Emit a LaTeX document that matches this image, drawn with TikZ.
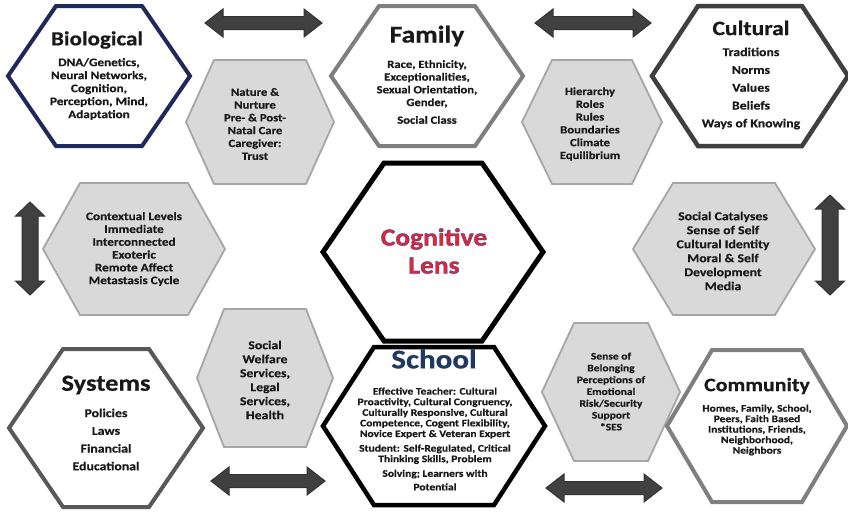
\documentclass[tikz,border=0pt]{standalone}
\usepackage{fontspec}
\setmainfont{Carlito}[FakeStretch=1.15,BoldFeatures={FakeBold=0.5}]
\newfontfamily\cogfont{Carlito}[FakeStretch=1.12,BoldFeatures={FakeBold=1.4}]
\usetikzlibrary{calc}
\pgfdeclarelayer{bg}
\pgfsetlayers{bg,main}
\definecolor{navy}{HTML}{1F2A5C}
\definecolor{hexgray}{HTML}{D9D9D9}
\definecolor{hexedge}{HTML}{A6A6A6}
\definecolor{famedge}{HTML}{7F7F7F}
\definecolor{culedge}{HTML}{3F3F3F}
\definecolor{sysedge}{HTML}{595959}
\definecolor{arrowfill}{HTML}{404040}
\definecolor{cogred}{HTML}{E5262E}
\definecolor{schoolblue}{HTML}{1F3864}
\newcommand\fsz[2]{\bfseries\fontsize{#1}{#2}\selectfont}
% name, cx, cy, half width, half height, half top edge, style
\newcommand\hexshape[7]{%
  \draw[#7] (#2-#4,#3) coordinate (#1-l)
    -- (#2-#6,#3-#5) coordinate (#1-tl)
    -- (#2+#6,#3-#5) coordinate (#1-tr)
    -- (#2+#4,#3) coordinate (#1-r)
    -- (#2+#6,#3+#5) coordinate (#1-br)
    -- (#2-#6,#3+#5) coordinate (#1-bl)
    -- cycle;
  \coordinate (#1) at (#2,#3);
  \coordinate (#1-t) at (#2,#3-#5);
  \coordinate (#1-b) at (#2,#3+#5);
}
% name, x1, x2, y
\newcommand\harrow[4]{%
  \draw[blockarrow] (#2,#4) coordinate (#1) -- (#2+18,#4-14) -- (#2+18,#4-6.5)
    -- (#3-18,#4-6.5) -- (#3-18,#4-14) -- (#3,#4) -- (#3-18,#4+14)
    -- (#3-18,#4+6.5) -- (#2+18,#4+6.5) -- (#2+18,#4+14) -- cycle;
}
% name, x, y1, y2
\newcommand\varrow[4]{%
  \draw[blockarrow] (#2,#3) coordinate (#1) -- (#2+14.5,#3+14) -- (#2+8,#3+14)
    -- (#2+8,#4-14) -- (#2+14.5,#4-14) -- (#2,#4) -- (#2-14.5,#4-14)
    -- (#2-8,#4-14) -- (#2-8,#3+14) -- (#2-14.5,#3+14) -- cycle;
}
\begin{document}
\begin{tikzpicture}[x=1pt,y=-1pt,
  hexw/.style={fill=white,line width=4pt,line join=miter},
  hexg/.style={fill=hexgray,draw=hexedge,line width=1.8pt,line join=miter},
  conn/.style={draw=black!85,line width=0.7pt},
  vconn/.style={draw=black!55,line width=0.8pt},
  blockarrow/.style={fill=arrowfill,draw=black!80,line width=1pt,line join=miter},
  lbl/.style={inner sep=0pt,align=center,text=black!90}]
\useasboundingbox[fill=white] (0,0) rectangle (848,512);

% hexagons
\hexshape{bio}{99}{76}{91}{70}{43}{hexw,draw=navy}
\hexshape{nat}{260}{122}{74}{62}{46}{hexg}
\hexshape{fam}{427}{76}{96}{70}{48}{hexw,draw=famedge}
\hexshape{hier}{592}{122}{70}{62}{40}{hexg}
\hexshape{cult}{750}{76}{98}{70}{52}{hexw,draw=culedge,line width=4.5pt}
\hexshape{ctx}{134}{249}{91}{66}{54}{hexg}
\hexshape{cog}{433}{252}{110}{89}{49}{hexw,draw=black,line width=5pt}
\hexshape{soc}{724}{249}{91}{66}{51}{hexg}
\hexshape{sys}{106}{428}{97}{79}{43}{hexw,draw=sysedge}
\hexshape{wel}{265}{378}{68}{69}{41}{hexg}
\hexshape{sch}{434}{426}{111}{79}{60}{hexw,draw=black,line width=4.5pt}
\hexshape{sen}{611}{392}{69}{69}{37}{hexg}
\hexshape{com}{757}{426}{90}{76}{45}{hexw,draw=famedge}

% block arrows
\harrow{atl}{205}{322}{23}
\harrow{atr}{535}{651}{23}
\varrow{aml}{30}{202}{295}
\varrow{amr}{830}{195}{295}
\harrow{abl}{211}{325}{481}
\harrow{abr}{546}{662}{488}

% connectors
\begin{pgfonlayer}{bg}
\draw[conn] (bio-br) -- (cog-l);
\draw[conn] (sys-tr) -- (cog-l);
\draw[conn] (cult-bl) -- (cog-r);
\draw[conn] (com-tl) -- (cog-r);
\draw[vconn] (cog-t) -- (cog-t |- fam-b);
\draw[vconn] (cog-b) -- (cog-b |- sch-t);
\end{pgfonlayer}

% texts
\node[lbl,font=\fsz{20}{22}] (biot) at (97,40) {Biological};
\node[lbl,font=\fsz{11.5}{13}] (biob) at (99,89) {DNA/Genetics,\\Neural Networks,\\Cognition,\\Perception, Mind,\\Adaptation};
\node[lbl,font=\fsz{11}{12.8}] (natb) at (255,124) {Nature \&\\Nurture\\Pre- \& Post-\\Natal Care\\Caregiver:\\Trust};
\node[lbl,font=\fsz{24}{26}] (famt) at (427,36) {Family};
\node[lbl,font=\fsz{11}{12.7}] (famb) at (427,92) {Race, Ethnicity,\\Exceptionalities,\\Sexual Orientation,\\Gender,\\[5pt]Social Class};
\node[lbl,font=\fsz{11}{12.8}] (hierb) at (590,124) {Hierarchy\\Roles\\Rules\\Boundaries\\Climate\\Equilibrium};
\node[lbl,font=\fsz{20.5}{22}] (cultt) at (751,28) {Cultural};
\node[lbl,font=\fsz{12}{17.8}] (cultb) at (751,88.5) {Traditions\\Norms\\Values\\Beliefs\\Ways of Knowing};
\node[lbl,font=\fsz{11.5}{12.8}] (ctxb) at (134,249) {Contextual Levels\\Immediate\\Interconnected\\Exoteric\\Remote Affect\\Metastasis Cycle};
\node[inner sep=0pt,align=center,text=cogred,font=\cogfont\bfseries\fontsize{24.5}{28}\selectfont] (cogt) at (434,251) {\special{pdf:literal direct 0.16 0.24 0.66 RG}Cognitive\\Lens};
\node[lbl,font=\fsz{12}{14}] (socb) at (723,251) {Social Catalyses\\Sense of Self\\Cultural Identity\\Moral \& Self\\Development\\Media};
\node[lbl,font=\fsz{23}{25}] (syst) at (106,385) {Systems};
\node[lbl,font=\fsz{12}{17.7}] (sysb) at (106,439.5) {Policies\\Laws\\Financial\\Educational};
\node[lbl,font=\fsz{12}{14}] (welb) at (265,380) {Social\\Welfare\\Services,\\Legal\\Services,\\Health};
\node[inner sep=0pt,text=schoolblue,font=\fsz{27}{29}] (scht) at (434,359) {School};
\node[lbl,font=\fsz{10}{10.6}] (schb) at (435,439) {Effective Teacher: Cultural\\Proactivity, Cultural Congruency,\\Culturally Responsive, Cultural\\Competence, Cogent Flexibility,\\Novice Expert \& Veteran Expert\\[4pt]Student: Self-Regulated, Critical\\Thinking Skills, Problem\\[4pt]Solving; Learners with\\[3pt]Potential};
\node[lbl,font=\fsz{10}{11.8}] (senb) at (611,391.5) {Sense of\\Belonging\\Perceptions of\\Emotional\\Risk/Security\\Support\\*SES};
\node[lbl,font=\fsz{19}{21}] (comt) at (757,386) {Community};
\node[lbl,font=\fsz{10}{10.5}] (comb) at (757,430) {Homes, Family, School,\\Peers, Faith Based\\Institutions, Friends,\\Neighborhood,\\Neighbors};
\end{tikzpicture}
\end{document}
